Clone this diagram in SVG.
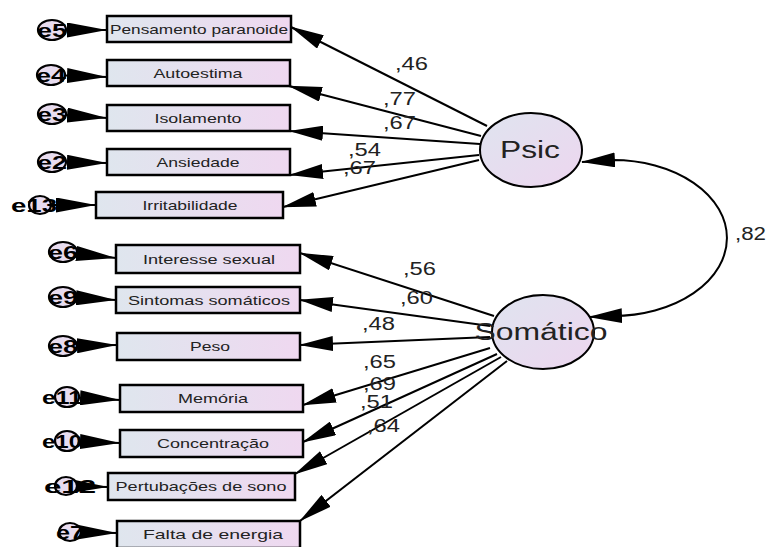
<svg xmlns="http://www.w3.org/2000/svg" width="770" height="547" viewBox="0 0 770 547">
<defs>
<linearGradient id="gb" x1="0" y1="0" x2="1" y2="0"><stop offset="0" stop-color="#dfe6ee"/><stop offset="1" stop-color="#efd8f0"/></linearGradient>
<linearGradient id="ge" x1="0" y1="0" x2="1" y2="1"><stop offset="0" stop-color="#dfe4ef"/><stop offset="1" stop-color="#edd6ef"/></linearGradient>
<marker id="ah" markerUnits="userSpaceOnUse" markerWidth="34" markerHeight="15" viewBox="0 0 34 15" refX="33" refY="7.5" orient="auto"><path d="M0,0 L34,7.5 L0,15 Z" fill="#000"/></marker>
<marker id="ahs" markerUnits="userSpaceOnUse" markerWidth="34" markerHeight="15" viewBox="0 0 34 15" refX="33" refY="7.5" orient="auto-start-reverse"><path d="M0,0 L34,7.5 L0,15 Z" fill="#000"/></marker>
<marker id="eh" markerUnits="userSpaceOnUse" markerWidth="40" markerHeight="15" viewBox="0 0 40 15" refX="40" refY="7.5" orient="auto"><path d="M0,0 L40,7.5 L0,15 Z" fill="#000"/></marker>
<style>
.box{fill:url(#gb);stroke:#000;stroke-width:2.5}
.lat{fill:url(#ge);stroke:#000;stroke-width:2}
.err{fill:#e8dcef;stroke:#000;stroke-width:2.2}
.bt{font-family:"Liberation Sans",Arial,sans-serif;font-size:13px;fill:#222;text-anchor:middle}
.et{font-family:"Liberation Sans",Arial,sans-serif;font-size:19px;font-weight:bold;fill:#000;text-anchor:middle}
.lt{font-family:"Liberation Sans",Arial,sans-serif;font-size:23px;fill:#222;text-anchor:middle}
.w{font-family:"Liberation Sans",Arial,sans-serif;font-size:18px;fill:#222}
.c{stroke:#000;stroke-width:2;fill:none;marker-end:url(#ah)}
.ec{stroke:#000;stroke-width:2;fill:none;marker-end:url(#eh)}
</style>
</defs>
<rect width="770" height="547" fill="#fff"/>
<g id="connectors">
<line class="c" x1="487" y1="126" x2="291" y2="27"/>
<line class="c" x1="481" y1="136" x2="289" y2="86"/>
<line class="c" x1="480" y1="144" x2="290" y2="131"/>
<line class="c" x1="479" y1="155" x2="290" y2="175"/>
<line class="c" x1="479" y1="160" x2="283" y2="207"/>
<line class="c" x1="494" y1="316" x2="300" y2="253"/>
<line class="c" x1="490" y1="326" x2="300" y2="300"/>
<line class="c" x1="490" y1="337" x2="300" y2="345"/>
<line class="c" x1="490" y1="348" x2="303" y2="405"/>
<line class="c" x1="497" y1="354" x2="303" y2="442"/>
<line class="c" x1="501" y1="357" x2="295" y2="474"/>
<line class="c" x1="507" y1="361" x2="300" y2="521"/>
<path d="M582 162 L613 160 A114 78 0 0 1 613 316 L589 317" stroke="#000" stroke-width="2" fill="none" marker-start="url(#ahs)" marker-end="url(#ahs)"/>
<line class="ec" x1="52" y1="30" x2="107" y2="30"/>
<line class="ec" x1="51" y1="75" x2="107" y2="77"/>
<line class="ec" x1="52" y1="114" x2="107" y2="118"/>
<line class="ec" x1="52" y1="162" x2="107" y2="163"/>
<line class="ec" x1="40" y1="205" x2="96" y2="205"/>
<line class="ec" x1="63" y1="252" x2="116" y2="258"/>
<line class="ec" x1="63" y1="297" x2="116" y2="300"/>
<line class="ec" x1="63" y1="346" x2="117" y2="345"/>
<line class="ec" x1="67" y1="397" x2="120" y2="400"/>
<line class="ec" x1="67" y1="441" x2="120" y2="443"/>
<line class="ec" x1="66" y1="486" x2="108" y2="487"/>
<line class="ec" x1="70" y1="532" x2="117" y2="533"/>
<text class="w" x="395" y="70" textLength="33" lengthAdjust="spacingAndGlyphs">,46</text>
<text class="w" x="383" y="105" textLength="33" lengthAdjust="spacingAndGlyphs">,77</text>
<text class="w" x="383" y="129" textLength="33" lengthAdjust="spacingAndGlyphs">,67</text>
<text class="w" x="348" y="156" textLength="33" lengthAdjust="spacingAndGlyphs">,54</text>
<text class="w" x="343" y="174" textLength="33" lengthAdjust="spacingAndGlyphs">,67</text>
<text class="w" x="403" y="275" textLength="33" lengthAdjust="spacingAndGlyphs">,56</text>
<text class="w" x="400" y="304" textLength="33" lengthAdjust="spacingAndGlyphs">,60</text>
<text class="w" x="362" y="330" textLength="33" lengthAdjust="spacingAndGlyphs">,48</text>
<text class="w" x="363" y="368" textLength="33" lengthAdjust="spacingAndGlyphs">,65</text>
<text class="w" x="363" y="390" textLength="33" lengthAdjust="spacingAndGlyphs">,69</text>
<text class="w" x="360" y="408" textLength="33" lengthAdjust="spacingAndGlyphs">,51</text>
<text class="w" x="367" y="432" textLength="33" lengthAdjust="spacingAndGlyphs">,64</text>
<text class="w" x="735" y="240" textLength="31" lengthAdjust="spacingAndGlyphs">,82</text>
</g>
<g id="Psic"><ellipse class="lat" cx="531" cy="150" rx="51" ry="37"/><text class="lt" x="530" y="158" textLength="60" lengthAdjust="spacingAndGlyphs">Psic</text></g>
<g id="Somatico"><ellipse class="lat" cx="543" cy="332" rx="51" ry="37"/><text class="lt" x="541" y="340" textLength="133" lengthAdjust="spacingAndGlyphs">Somático</text></g>
<g id="v_pens"><rect class="box" x="107" y="16" width="184" height="26"/><text class="bt" x="199" y="33.5" textLength="178" lengthAdjust="spacingAndGlyphs">Pensamento paranoide</text></g>
<g id="v_auto"><rect class="box" x="107" y="60" width="183" height="26"/><text class="bt" x="198" y="77.5" textLength="89" lengthAdjust="spacingAndGlyphs">Autoestima</text></g>
<g id="v_isol"><rect class="box" x="107" y="105" width="183" height="26"/><text class="bt" x="198" y="122.5" textLength="87" lengthAdjust="spacingAndGlyphs">Isolamento</text></g>
<g id="v_ansi"><rect class="box" x="107" y="149" width="183" height="26"/><text class="bt" x="198" y="166.5" textLength="83" lengthAdjust="spacingAndGlyphs">Ansiedade</text></g>
<g id="v_irri"><rect class="box" x="96" y="192" width="187" height="26"/><text class="bt" x="190" y="209.5" textLength="95" lengthAdjust="spacingAndGlyphs">Irritabilidade</text></g>
<g id="v_inte"><rect class="box" x="116" y="245" width="184" height="28"/><text class="bt" x="209" y="263.5" textLength="132" lengthAdjust="spacingAndGlyphs">Interesse sexual</text></g>
<g id="v_sint"><rect class="box" x="116" y="287" width="184" height="26"/><text class="bt" x="209" y="304.5" textLength="162" lengthAdjust="spacingAndGlyphs">Sintomas somáticos</text></g>
<g id="v_peso"><rect class="box" x="117" y="333" width="183" height="27"/><text class="bt" x="210" y="351" textLength="40" lengthAdjust="spacingAndGlyphs">Peso</text></g>
<g id="v_memo"><rect class="box" x="120" y="385" width="183" height="27"/><text class="bt" x="213" y="403" textLength="70" lengthAdjust="spacingAndGlyphs">Memória</text></g>
<g id="v_conc"><rect class="box" x="120" y="430" width="183" height="27"/><text class="bt" x="213" y="448" textLength="112" lengthAdjust="spacingAndGlyphs">Concentração</text></g>
<g id="v_pert"><rect class="box" x="108" y="473" width="187" height="27"/><text class="bt" x="201" y="491" textLength="171" lengthAdjust="spacingAndGlyphs">Pertubações de sono</text></g>
<g id="v_falt"><rect class="box" x="117" y="521" width="183" height="27"/><text class="bt" x="213" y="539" textLength="140" lengthAdjust="spacingAndGlyphs">Falta de energia</text></g>
<g id="e5"><ellipse class="err" cx="52" cy="30" rx="14" ry="10"/><text class="et" x="52" y="37" textLength="30" lengthAdjust="spacingAndGlyphs">e5</text></g>
<g id="e4"><ellipse class="err" cx="51" cy="75" rx="14" ry="10"/><text class="et" x="51" y="82" textLength="30" lengthAdjust="spacingAndGlyphs">e4</text></g>
<g id="e3"><ellipse class="err" cx="52" cy="114" rx="14" ry="10"/><text class="et" x="52" y="121" textLength="30" lengthAdjust="spacingAndGlyphs">e3</text></g>
<g id="e2"><ellipse class="err" cx="52" cy="162" rx="14" ry="10"/><text class="et" x="52" y="169" textLength="30" lengthAdjust="spacingAndGlyphs">e2</text></g>
<g id="e13"><ellipse class="err" cx="40" cy="205" rx="11" ry="9"/><text class="et" x="34" y="212" textLength="46" lengthAdjust="spacingAndGlyphs">e13</text></g>
<g id="e6"><ellipse class="err" cx="63" cy="252" rx="14" ry="10"/><text class="et" x="63" y="259" textLength="30" lengthAdjust="spacingAndGlyphs">e6</text></g>
<g id="e9"><ellipse class="err" cx="63" cy="297" rx="14" ry="10"/><text class="et" x="63" y="304" textLength="30" lengthAdjust="spacingAndGlyphs">e9</text></g>
<g id="e8"><ellipse class="err" cx="63" cy="346" rx="14" ry="10"/><text class="et" x="63" y="353" textLength="30" lengthAdjust="spacingAndGlyphs">e8</text></g>
<g id="e11"><ellipse class="err" cx="67" cy="397" rx="12" ry="10"/><text class="et" x="62" y="404" textLength="40" lengthAdjust="spacingAndGlyphs">e11</text></g>
<g id="e10"><ellipse class="err" cx="67" cy="441" rx="12" ry="10"/><text class="et" x="62" y="448" textLength="40" lengthAdjust="spacingAndGlyphs">e10</text></g>
<g id="e12"><ellipse class="err" cx="66" cy="486" rx="11" ry="9"/><text class="et" x="70" y="493" textLength="52" lengthAdjust="spacingAndGlyphs">e12</text></g>
<g id="e7"><ellipse class="err" cx="70" cy="532" rx="11" ry="9"/><text class="et" x="70" y="539" textLength="28" lengthAdjust="spacingAndGlyphs">e7</text></g>
</svg>
